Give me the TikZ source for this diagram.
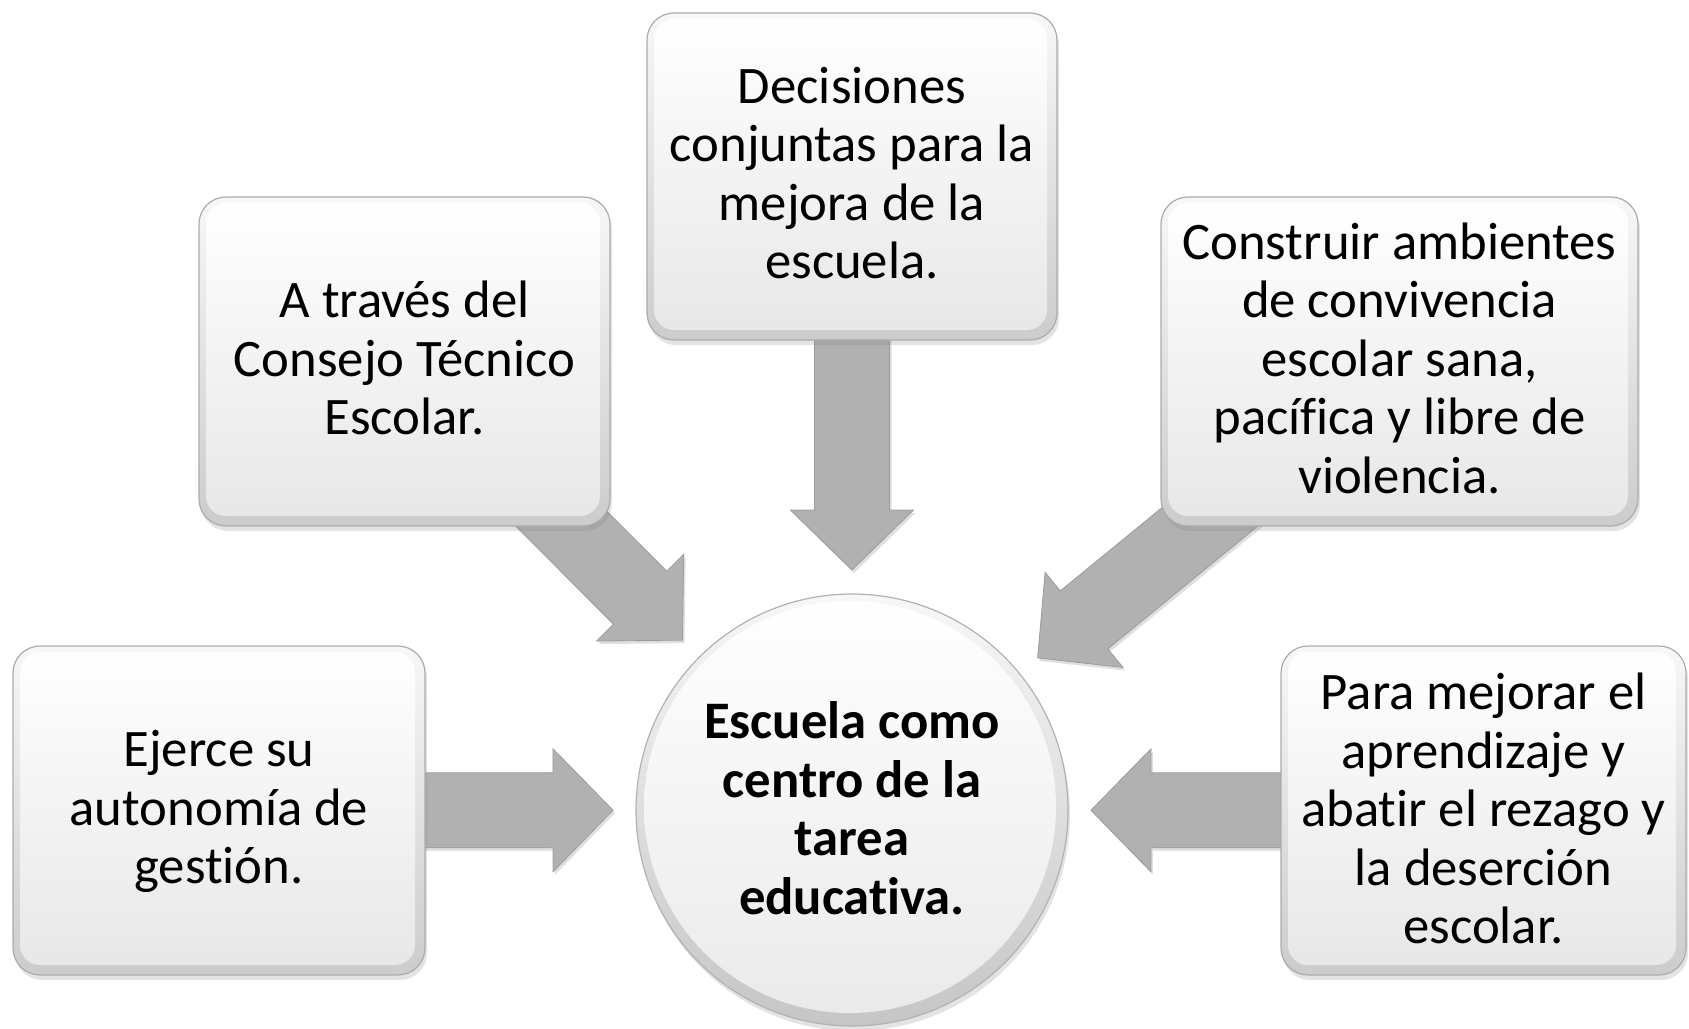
\documentclass[tikz,border=0pt]{standalone}
\usepackage{fontspec}
\setmainfont{Carlito}[Ligatures={NoCommon,NoRare,NoContextual}]
\usetikzlibrary{calc,shadows}
\pgfdeclarelayer{background}
\pgfsetlayers{background,main}
\definecolor{arrgray}{HTML}{B1B1B1}
\definecolor{arrline}{HTML}{9C9C9C}
\tikzset{
  tbox/.style={rectangle, rounded corners=27pt, inner sep=0pt,
    draw=gray!65, line width=1.2pt, top color=gray!6, bottom color=gray!40,
    drop shadow={opacity=0.22, shadow xshift=2pt, shadow yshift=-5pt},
    path picture={\shade[top color=white, bottom color=gray!19, rounded corners=20pt]
      ([xshift=7pt,yshift=-6pt]path picture bounding box.north west) rectangle
      ([xshift=-10pt,yshift=10pt]path picture bounding box.south east);}},
  cstyle/.style={circle, minimum size=432pt, inner sep=0pt,
    draw=gray!60, line width=1.2pt, top color=gray!6, bottom color=gray!45,
    drop shadow={opacity=0.22, shadow xshift=2pt, shadow yshift=-5pt},
    path picture={\shade[top color=white, bottom color=gray!17]
      ([xshift=-2pt,yshift=3pt]path picture bounding box.center) circle (206pt);}},
  btext/.style={inner sep=0pt, align=center, text=black,
    font=\fontsize{52.7}{58.5}\selectfont},
  ctext/.style={btext, font=\bfseries\fontsize{52.7}{58.5}\selectfont},
  blockarr/.style={fill=arrgray, draw=arrline, line width=0.8pt, line join=miter,
    drop shadow={opacity=0.25, shadow xshift=2pt, shadow yshift=-3pt}}
}
\newcommand\blockarrow[2]{%
  \coordinate (h-#1) at ($(#2)!60pt!(#1.center)$);
  \draw[blockarr] ($(#1.center)!37.5pt!90:(#2)$) -- ($(h-#1)!37.5pt!90:(#2)$)
    -- ($(h-#1)!61.5pt!90:(#2)$) -- (#2) -- ($(h-#1)!61.5pt!-90:(#2)$)
    -- ($(h-#1)!37.5pt!-90:(#2)$) -- ($(#1.center)!37.5pt!-90:(#2)$) -- cycle;}
\begin{document}
\begin{tikzpicture}[x=1pt, y=-1pt]
\useasboundingbox (0,0) rectangle (1689,1028);
\node[tbox, minimum width=410pt, minimum height=327pt] (dec) at (852,176.5) {};
\node[tbox, minimum width=411pt, minimum height=329pt] (atr) at (404.5,361.5) {};
\node[tbox, minimum width=477pt, minimum height=329pt] (con) at (1399.5,361.5) {};
\node[tbox, minimum width=412pt, minimum height=329pt] (eje) at (219,810.5) {};
\node[tbox, minimum width=405pt, minimum height=329pt] (par) at (1483.5,810.5) {};
\node[cstyle] (cen) at (852,810) {};
\node[btext] (dec-l) at ([yshift=3.2pt]dec.center)
  {Decisiones\\conjuntas para la\\mejora de la\\escuela.};
\node[btext] (atr-l) at ([yshift=3.2pt]atr.center)
  {A través del\\Consejo Técnico\\Escolar.};
\node[btext] (con-l) at ([yshift=3.2pt]con.center)
  {Construir ambientes\\de convivencia\\escolar sana,\\pacífica y libre de\\violencia.};
\node[btext] (eje-l) at ([yshift=-1pt]eje.center)
  {Ejerce su\\autonomía de\\gestión.};
\node[btext] (par-l) at ([yshift=2pt]par.center)
  {Para mejorar el\\aprendizaje y\\abatir el rezago y\\la deserción\\escolar.};
\node[ctext] (cen-l) at ([yshift=2pt]cen.center)
  {Escuela como\\centro de la\\tarea\\educativa.};
\coordinate (tdec) at ($(cen.center)!240pt!(dec.center)$);
\coordinate (tatr) at ($(cen.center)!240pt!(atr.center)$);
\coordinate (tcon) at ($(cen.center)!240pt!(con.center)$);
\coordinate (teje) at ($(cen.center)!239pt!(eje.center)$);
\coordinate (tpar) at ($(cen.center)!239pt!(par.center)$);
\begin{pgfonlayer}{background}
\blockarrow{dec}{tdec}
\blockarrow{atr}{tatr}
\blockarrow{con}{tcon}
\blockarrow{eje}{teje}
\blockarrow{par}{tpar}
\end{pgfonlayer}
\end{tikzpicture}
\end{document}
